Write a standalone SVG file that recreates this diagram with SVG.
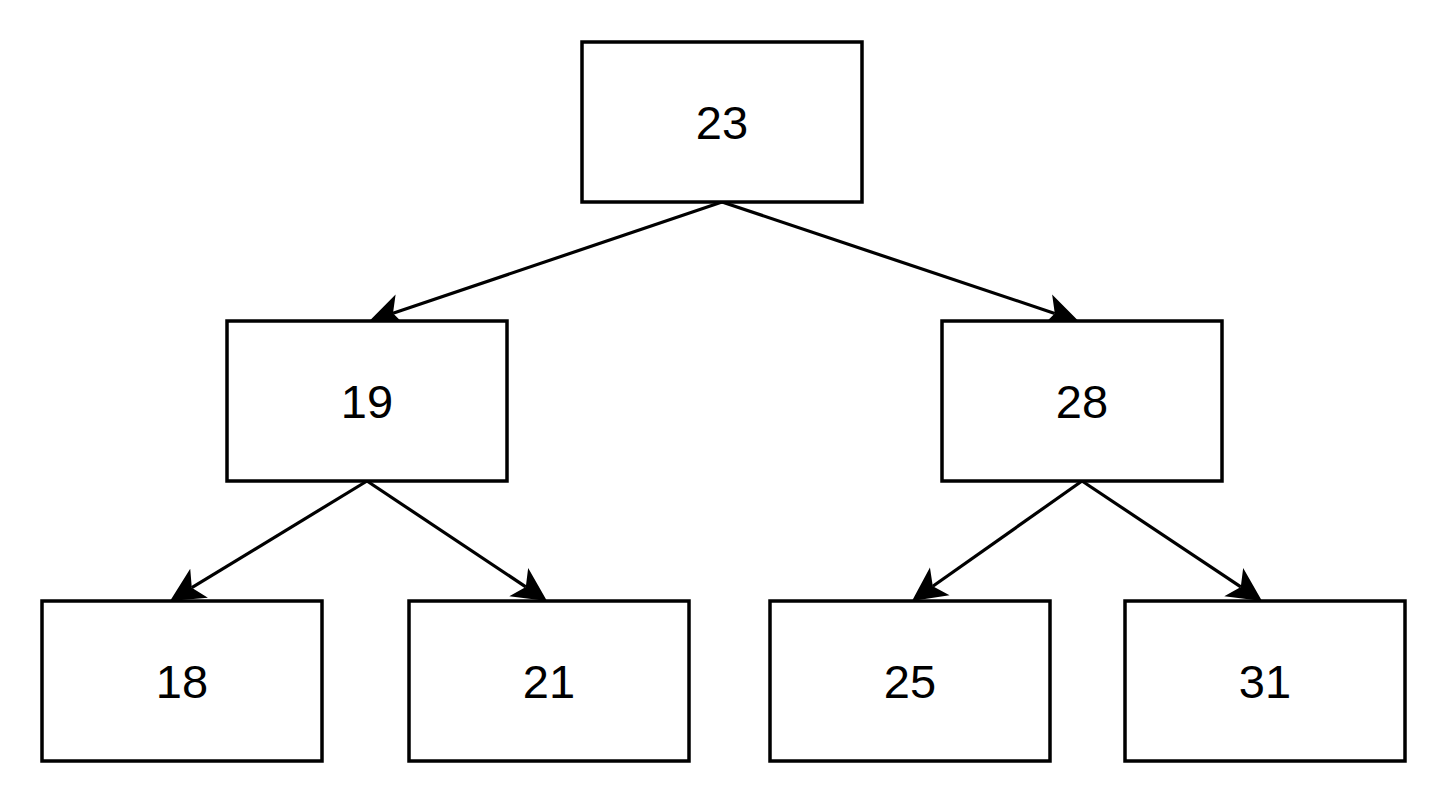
<svg xmlns="http://www.w3.org/2000/svg" width="1448" height="804" viewBox="0 0 1448 804">
<style>
.node rect{fill:#ffffff;stroke:#000000;stroke-width:3.5}
.node text{font-family:"Liberation Sans",Arial,Helvetica,sans-serif;font-size:47px;fill:#000000;text-anchor:middle}
.edge{fill:none;stroke:#000000;stroke-width:3.2}
</style>
<defs>
<marker id="arrow" markerUnits="userSpaceOnUse" markerWidth="34" markerHeight="34" viewBox="0 0 34 34" refX="8.5" refY="17" orient="auto" overflow="visible">
<path d="M34,17 L0,0 L8.5,17 L0,34 Z" fill="#000000"/>
</marker>
</defs>
<rect x="0" y="0" width="1448" height="804" fill="#ffffff"/>
<g id="connectors">
<path class="edge" d="M722,202 L393,313.3" marker-end="url(#arrow)"/>
<path class="edge" d="M722,202 L1054.8,313.4" marker-end="url(#arrow)"/>
<path class="edge" d="M367,481 L191.8,587.7" marker-end="url(#arrow)"/>
<path class="edge" d="M367,481 L525.8,586.9" marker-end="url(#arrow)"/>
<path class="edge" d="M1082,481 L932.8,586.3" marker-end="url(#arrow)"/>
<path class="edge" d="M1082,481 L1240.8,586.9" marker-end="url(#arrow)"/>
</g>
<g id="n23" class="node"><rect x="582" y="42" width="280" height="160"/><text x="722" y="139">23</text></g>
<g id="n19" class="node"><rect x="227" y="321" width="280" height="160"/><text x="367" y="418">19</text></g>
<g id="n28" class="node"><rect x="942" y="321" width="280" height="160"/><text x="1082" y="418">28</text></g>
<g id="n18" class="node"><rect x="42" y="601" width="280" height="160"/><text x="182" y="698">18</text></g>
<g id="n21" class="node"><rect x="409" y="601" width="280" height="160"/><text x="549" y="698">21</text></g>
<g id="n25" class="node"><rect x="770" y="601" width="280" height="160"/><text x="910" y="698">25</text></g>
<g id="n31" class="node"><rect x="1125" y="601" width="280" height="160"/><text x="1265" y="698">31</text></g>
</svg>
